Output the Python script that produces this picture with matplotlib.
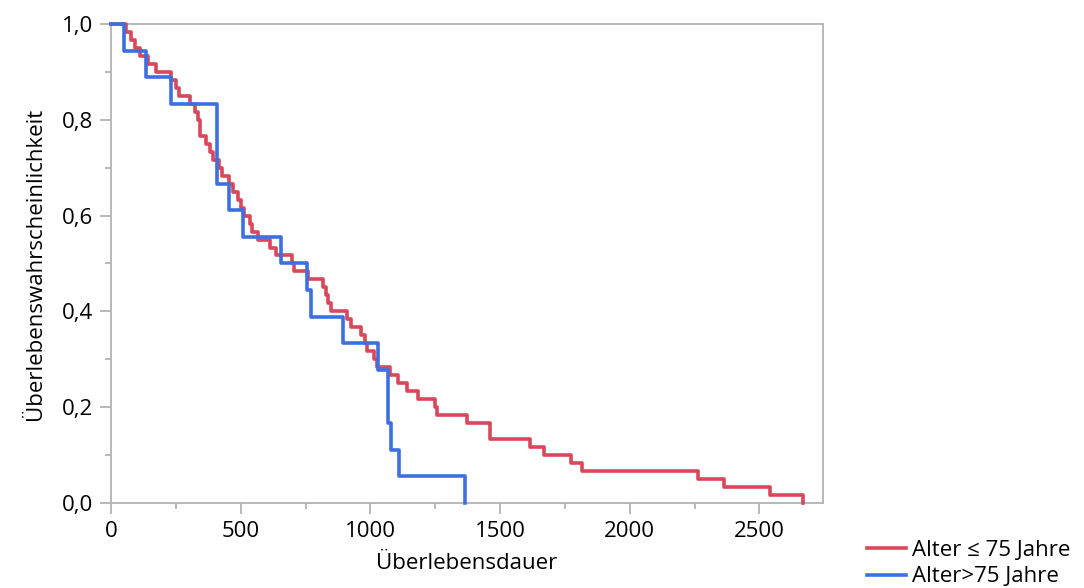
import numpy as np
import matplotlib
matplotlib.use("Agg")
import matplotlib.pyplot as plt
from matplotlib.ticker import MultipleLocator, FuncFormatter

plt.rcParams['font.family'] = ['Open Sans', 'DejaVu Sans']

# Sterbezeitpunkte (Tage), keine Zensierungen
zeit_jung = [56, 79, 91, 113, 143, 175, 233, 252, 261, 304,
             323, 336, 342, 345, 368, 381, 392, 416, 427, 454,
             470, 489, 500, 512, 535, 543, 566, 612, 638, 697,
             705, 760, 818, 828, 837, 850, 908, 927, 962, 979,
             987, 1013, 1025, 1075, 1107, 1140, 1184, 1249, 1257, 1371,
             1461, 1461, 1615, 1669, 1772, 1815, 2263, 2364, 2541, 2667]
zeit_alt = [50, 135, 231, 409, 409, 409, 456, 508, 655, 755,
            773, 896, 1029, 1067, 1069, 1078, 1110, 1365]

gruppen = ["Alter \u2264 75 Jahre", "Alter>75 Jahre"]
farben = ["#d9475a", "#3d6fe0"]


def kaplan_meier(zeiten):
    t, d = np.unique(zeiten, return_counts=True)
    n = len(zeiten)
    s = 1 - np.cumsum(d) / n
    return np.concatenate([[0], t]), np.concatenate([[1.0], s])


fig = plt.figure(figsize=(10.84, 5.88), dpi=100)
ax = fig.add_axes([0.1024, 0.1446, 0.6568, 0.8146])

for zeiten, name, farbe in zip([zeit_jung, zeit_alt], gruppen, farben):
    x, y = kaplan_meier(zeiten)
    ax.step(x, y, where="post", color=farbe, lw=2.6, label=name,
            clip_on=False, zorder=3)

ax.set_xlim(0, 2745)
ax.set_ylim(0, 1.0)
ax.xaxis.set_major_locator(MultipleLocator(500))
ax.xaxis.set_minor_locator(MultipleLocator(250))
ax.yaxis.set_major_locator(MultipleLocator(0.2))
ax.yaxis.set_minor_locator(MultipleLocator(0.1))
ax.yaxis.set_major_formatter(FuncFormatter(lambda v, p: f"{v:.1f}".replace(".", ",")))

for s in ax.spines.values():
    s.set_color("#b3b3b3")
    s.set_linewidth(1.3)
ax.tick_params(which="major", length=8, width=1.3, color="#b3b3b3",
               labelsize=16, pad=5)
ax.tick_params(which="minor", length=4, width=1.3, color="#b3b3b3")

ax.set_xlabel("Überlebensdauer", fontsize=16, labelpad=8)
ax.set_ylabel("Überlebenswahrscheinlichkeit", fontsize=16, labelpad=11)

fig.legend(loc="upper left", bbox_to_anchor=(0.7915, 0.097), frameon=False,
           fontsize=16, handlelength=1.75, handletextpad=0.3,
           labelspacing=0.25, borderaxespad=0)

fig.savefig("out.png", dpi=100)
